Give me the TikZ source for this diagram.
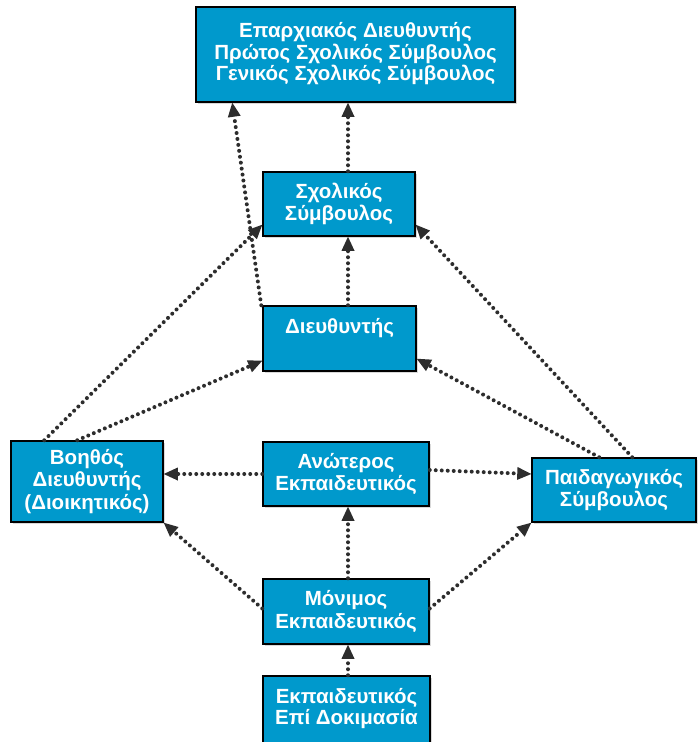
\documentclass[tikz,border=0pt]{standalone}
\usepackage{fontspec}
\setmainfont{Liberation Sans}
\usetikzlibrary{arrows.meta,calc,shadows}
\definecolor{boxblue}{RGB}{0,153,204}
\definecolor{arrgray}{RGB}{45,45,45}
\tikzset{
  box/.style={draw=black, line width=1.5pt, fill=boxblue, text=white, align=center,
    inner sep=0pt, font=\fontsize{20.5}{22.5}\selectfont\bfseries,
    drop shadow={shadow xshift=1.5pt, shadow yshift=-1.5pt, fill=gray!50, opacity=0.6}},
  conn/.style={draw=arrgray, line width=4pt, line cap=round, dash pattern=on 0pt off 6pt,
    -{Triangle[length=14pt,width=13pt,line width=0pt]}, shorten >=0pt}
}
\begin{document}
\begin{tikzpicture}[x=1pt,y=-1pt]
\useasboundingbox (0,0) rectangle (698,742);
\node[box, minimum width=319pt, minimum height=95pt] (top) at (355.5,54.5)
  {\raisebox{7pt}{\begin{tabular}{@{}c@{}}Επαρχιακός Διευθυντής\\[-1pt]Πρώτος Σχολικός Σύμβουλος\\[-1pt]Γενικός Σχολικός Σύμβουλος\end{tabular}}};
\node[box, minimum width=152pt, minimum height=64pt] (sch) at (339,204) {Σχολικός\\Σύμβουλος};
\node[box, minimum width=153pt, minimum height=65pt] (dir) at (339.5,338.5) {\raisebox{25pt}{Διευθυντής}};
\node[box, minimum width=152pt, minimum height=81pt] (boh) at (87,481.5) {Βοηθός\\Διευθυντής\\(Διοικητικός)};
\node[box, minimum width=166pt, minimum height=64pt] (anw) at (346,474) {Ανώτερος\\Εκπαιδευτικός};
\node[box, minimum width=164pt, minimum height=64pt] (paid) at (614,490) {Παιδαγωγικός\\Σύμβουλος};
\node[box, minimum width=166pt, minimum height=65pt] (mon) at (346,611.5) {Μόνιμος\\Εκπαιδευτικός};
\node[box, minimum width=167pt, minimum height=76pt] (dok) at (346.5,714) {\raisebox{26pt}{\begin{tabular}{@{}c@{}}Εκπαιδευτικός\\[-1pt]Επί Δοκιμασία\end{tabular}}};

\draw[conn] ([xshift=9pt]sch.north) -- ([xshift=9pt]sch.north |- top.south);
\draw[conn] ([xshift=-1pt]dir.north west) -- ([xshift=37pt]top.south west);
\draw[conn] ([xshift=8.5pt]dir.north) -- ([xshift=9pt]sch.south);
\draw[conn] ([xshift=34pt]boh.north west) -- ([yshift=12pt]sch.south west);
\draw[conn] ([xshift=67pt]boh.north west) -- ([yshift=11pt]dir.south west);
\draw[conn] ([xshift=68pt]paid.north west) -- ([yshift=13pt]dir.south east);
\draw[conn] ([xshift=101pt]paid.north west) -- ([yshift=12pt]sch.south east);
\draw[conn] (anw.west) -- (anw.west -| boh.east);
\draw[conn] ([yshift=4pt]anw.east) -- ([yshift=16pt]paid.west);
\draw[conn] ([xshift=2pt]mon.north) -- ([xshift=2pt]anw.south);
\draw[conn] ([yshift=3pt]mon.west) -- (boh.south east);
\draw[conn] ([yshift=3pt]mon.east) -- (paid.south west);
\draw[conn] ([xshift=1.5pt]dok.north) -- ([xshift=2pt]mon.south);
\end{tikzpicture}
\end{document}
